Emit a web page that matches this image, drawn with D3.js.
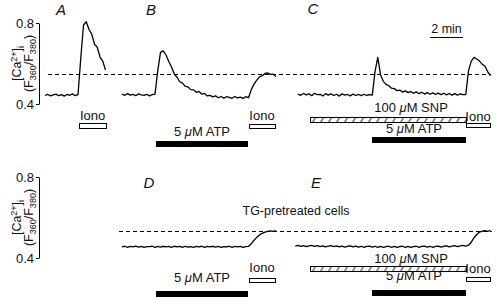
<!DOCTYPE html>
<html>
<head>
<meta charset="utf-8">
<script src="https://cdn.jsdelivr.net/npm/d3@7"></script>
<style>
  body { margin: 0; background: #fff; }
  svg { display: block; font-family: "Liberation Sans", Arial, Helvetica, sans-serif; }
</style>
</head>
<body>
<svg id="chart" width="496" height="297"></svg>
<script>
// fura-2 ratio traces, sampled every 10 s
const dt = 10;
const yTicks = [0.4, 0.8];

const traceStart = { A: 0, B: 280, C: 920, D: 280, E: 910 };

const traceA = [0.442, 0.447, 0.440, 0.445, 0.449, 0.441, 0.446, 0.439, 0.447, 0.443, 0.450, 0.441, 0.446,
  0.625, 0.790, 0.806, 0.768, 0.745, 0.695, 0.680, 0.632, 0.612, 0.568];

const traceB = [0.449, 0.443, 0.451, 0.444, 0.447, 0.441, 0.450, 0.445, 0.443, 0.448, 0.440, 0.446, 0.449,
  0.565, 0.655, 0.662, 0.642, 0.610, 0.583, 0.548, 0.532, 0.510, 0.503, 0.487, 0.484, 0.471, 0.470, 0.458,
  0.462, 0.449, 0.452, 0.440, 0.443, 0.435, 0.440, 0.431, 0.437, 0.429, 0.436, 0.433, 0.428, 0.437, 0.430,
  0.434, 0.428, 0.436, 0.431,
  0.470, 0.498, 0.518, 0.534, 0.540, 0.551, 0.553, 0.546, 0.547, 0.536];

const traceC = [0.449, 0.443, 0.452, 0.445, 0.450, 0.441, 0.453, 0.446, 0.448, 0.440, 0.451, 0.444, 0.450,
  0.442, 0.448, 0.439, 0.450, 0.444, 0.447, 0.440, 0.449, 0.442, 0.447, 0.441, 0.448, 0.442, 0.446, 0.444,
  0.560, 0.630, 0.545, 0.512, 0.497, 0.490, 0.478, 0.476, 0.466, 0.469, 0.459, 0.465, 0.456, 0.462, 0.453,
  0.460, 0.451, 0.458, 0.449, 0.456, 0.448, 0.455, 0.447, 0.454, 0.446, 0.453, 0.445, 0.452, 0.444, 0.451,
  0.444, 0.450, 0.446,
  0.447, 0.565, 0.612, 0.630, 0.622, 0.612, 0.596, 0.586, 0.558, 0.540];

const traceD = [0.455, 0.458, 0.453, 0.457, 0.455, 0.459, 0.454, 0.457, 0.453, 0.456,
  0.456, 0.458, 0.453, 0.457, 0.454, 0.458, 0.455, 0.457, 0.453, 0.458,
  0.455, 0.457, 0.453, 0.458, 0.454, 0.456, 0.453, 0.457, 0.455, 0.458,
  0.453, 0.457, 0.455, 0.458, 0.454, 0.457, 0.453, 0.456, 0.455, 0.458,
  0.453, 0.457, 0.455, 0.457, 0.453, 0.456, 0.457,
  0.470, 0.488, 0.502, 0.514, 0.522, 0.528, 0.531, 0.534, 0.531, 0.535];

const traceE = [0.459, 0.462, 0.457, 0.461, 0.456, 0.460, 0.462, 0.457, 0.461, 0.456,
  0.460, 0.455, 0.459, 0.461, 0.456, 0.460, 0.455, 0.459, 0.454, 0.458,
  0.460, 0.455, 0.459, 0.454, 0.458, 0.453, 0.457, 0.459, 0.454, 0.458,
  0.453, 0.457, 0.452, 0.456, 0.458, 0.453, 0.457, 0.452, 0.456, 0.458,
  0.453, 0.457, 0.452, 0.456, 0.458, 0.453, 0.457, 0.459, 0.454, 0.458,
  0.453, 0.457, 0.459, 0.454, 0.458, 0.460, 0.455, 0.459, 0.461, 0.456,
  0.460, 0.462, 0.459,
  0.463, 0.478, 0.500, 0.516, 0.528, 0.533, 0.535, 0.532, 0.537];

// dashed reference level and its time extent, per row
const dashLevel = { top: 0.550, bottom: 0.533 };
const dashSpan = { top: [11, 1622], bottom: [269, 1625] };

// drug applications: panel, kind, start (s), end (s)
const applications = [
  ["A", "iono", 124, 222],
  ["B", "atp", 404, 738],
  ["B", "iono", 742, 836],
  ["C", "snp", 964, 1531],
  ["C", "atp", 1189, 1531],
  ["C", "iono", 1531, 1618],
  ["D", "atp", 404, 738],
  ["D", "iono", 742, 836],
  ["E", "snp", 964, 1531],
  ["E", "atp", 1189, 1531],
  ["E", "iono", 1531, 1618]
];
const appLabel = { iono: "Iono", atp: ["5 ", "μ", "M ATP"], snp: ["100 ", "μ", "M SNP"] };

const scaleBarSpan = [1400, 1520];
const scaleBarLabel = "2 min";
const subtitle = "TG-pretreated cells";

// ---- layout ----
const svg = d3.select("#chart");
const font = '"Liberation Sans", Arial, Helvetica, sans-serif';

const x = d3.scaleLinear().domain([0, 1629]).range([45, 493]);
const rows = {
  top: d3.scaleLinear().domain([0.4, 0.8]).range([104, 23]),
  bottom: d3.scaleLinear().domain([0.4, 0.8]).range([258, 177])
};
const panelRow = { A: "top", B: "top", C: "top", D: "bottom", E: "bottom" };
const traces = { A: traceA, B: traceB, C: traceC, D: traceD, E: traceE };

// label baseline / bar top / bar height, offsets below the 0.4 level
const appLayout = {
  A: { iono: [16, 19, 5] },
  B: { atp: [32, 37, 6], iono: [16, 20, 4] },
  C: { snp: [8, 13, 5], atp: [29, 33, 6], iono: [17, 19, 4] },
  D: { atp: [24, 33, 6], iono: [14, 20, 4] },
  E: { snp: [5, 8, 5], atp: [22, 32, 6], iono: [15, 19, 4] }
};
const letterPos = { A: [61, 15], B: [151, 15], C: [313, 14], D: [149, 188], E: [316, 188] };

const defs = svg.append("defs");

// axes
Object.entries(rows).forEach(([row, y]) => {
  const axis = d3.axisLeft(y).tickValues(yTicks).tickSize(3).tickSizeOuter(0)
    .tickPadding(2).tickFormat(d3.format(".1f"));
  const g = svg.append("g").attr("transform", "translate(39,0)").call(axis);
  g.attr("font-size", 13).attr("font-family", font);
  g.selectAll("path, line").attr("stroke", "#000").attr("stroke-width", 1);
  g.selectAll("text").attr("fill", "#111");

  const mid = (y(0.4) + y(0.8)) / 2;
  const lab = svg.append("text")
    .attr("transform", `translate(21,${mid}) rotate(-90)`)
    .attr("text-anchor", "middle").attr("font-size", 12.5).attr("fill", "#111");
  lab.append("tspan").text("[Ca");
  lab.append("tspan").attr("dy", -4).attr("font-size", 9).text("2+");
  lab.append("tspan").attr("dy", 4).text("]");
  lab.append("tspan").attr("dy", 3).attr("font-size", 9).text("i");

  const lab2 = svg.append("text")
    .attr("transform", `translate(33,${mid}) rotate(-90)`)
    .attr("text-anchor", "middle").attr("font-size", 12.5).attr("fill", "#111");
  lab2.append("tspan").text("(F");
  lab2.append("tspan").attr("dy", 3).attr("font-size", 9).text("360");
  lab2.append("tspan").attr("dy", -3).text("/F");
  lab2.append("tspan").attr("dy", 3).attr("font-size", 9).text("380");
  lab2.append("tspan").attr("dy", -3).text(")");

  // dashed reference
  svg.append("line")
    .attr("x1", x(dashSpan[row][0])).attr("x2", x(dashSpan[row][1]))
    .attr("y1", Math.round(y(dashLevel[row])) + 0.5).attr("y2", Math.round(y(dashLevel[row])) + 0.5)
    .attr("stroke", "#000").attr("stroke-width", 1).attr("stroke-dasharray", "4,3");
});

// traces
Object.entries(traces).forEach(([p, vals]) => {
  const y = rows[panelRow[p]];
  const line = d3.line()
    .x((d, i) => x(traceStart[p] + i * dt))
    .y(d => y(d));
  svg.append("path").datum(vals)
    .attr("d", line)
    .attr("fill", "none").attr("stroke", "#000")
    .attr("stroke-width", 1.3).attr("stroke-linejoin", "round");
});

// panel letters
Object.entries(letterPos).forEach(([p, pos]) => {
  svg.append("text").attr("x", pos[0]).attr("y", pos[1])
    .attr("text-anchor", "middle").attr("font-size", 15).attr("font-style", "italic")
    .attr("fill", "#111").text(p);
});

// drug application bars
applications.forEach(([p, kind, t0, t1], k) => {
  const base = rows[panelRow[p]](0.4);
  const [tb, top, h] = appLayout[p][kind];
  const x0 = Math.round(x(t0)) + 0.5, x1 = Math.round(x(t1)) + 0.5;
  const yTop = base + top + 0.5;

  if (kind === "atp") {
    svg.append("rect").attr("x", x0 - 0.5).attr("y", yTop - 0.5)
      .attr("width", x1 - x0).attr("height", h).attr("fill", "#000");
  } else if (kind === "iono") {
    svg.append("rect").attr("x", x0).attr("y", yTop)
      .attr("width", x1 - x0).attr("height", h)
      .attr("fill", "#fff").attr("stroke", "#000").attr("stroke-width", 1);
  } else {
    const id = "hatch" + k;
    const pat = defs.append("pattern").attr("id", id)
      .attr("patternUnits", "userSpaceOnUse")
      .attr("x", x0).attr("y", yTop).attr("width", 8).attr("height", h);
    pat.append("rect").attr("width", 8).attr("height", h).attr("fill", "#fff");
    pat.append("path").attr("d", `M2,${h} L5,0`).attr("stroke", "#000").attr("stroke-width", 1);
    svg.append("rect").attr("x", x0).attr("y", yTop)
      .attr("width", x1 - x0).attr("height", h)
      .attr("fill", `url(#${id})`).attr("stroke", "#000").attr("stroke-width", 1);
  }

  // label
  let cx = (x(t0) + x(t1)) / 2;
  if (kind === "snp") {
    const atp = applications.find(a => a[0] === p && a[1] === "atp");
    cx = (x(atp[2]) + x(atp[3])) / 2 - 8;
  }
  if (kind === "atp" && (p === "C" || p === "E")) cx -= 5;
  const t = svg.append("text").attr("x", cx).attr("y", base + tb)
    .attr("text-anchor", "middle").attr("font-size", 13).attr("fill", "#111");
  const lbl = appLabel[kind];
  if (typeof lbl === "string") {
    t.text(lbl);
  } else {
    t.append("tspan").text(lbl[0]);
    t.append("tspan").attr("font-style", "italic").text(lbl[1]);
    t.append("tspan").text(lbl[2]);
  }
});

// time scale bar
svg.append("text")
  .attr("x", (x(scaleBarSpan[0]) + x(scaleBarSpan[1])) / 2).attr("y", 33)
  .attr("text-anchor", "middle").attr("font-size", 12.5).attr("fill", "#111")
  .text(scaleBarLabel);
svg.append("line")
  .attr("x1", x(scaleBarSpan[0])).attr("x2", x(scaleBarSpan[1]))
  .attr("y1", 37.5).attr("y2", 37.5)
  .attr("stroke", "#000").attr("stroke-width", 1);

// subtitle for bottom row
svg.append("text").attr("x", 296).attr("y", 215)
  .attr("text-anchor", "middle").attr("font-size", 12.5).attr("fill", "#111")
  .text(subtitle);
</script>
</body>
</html>
